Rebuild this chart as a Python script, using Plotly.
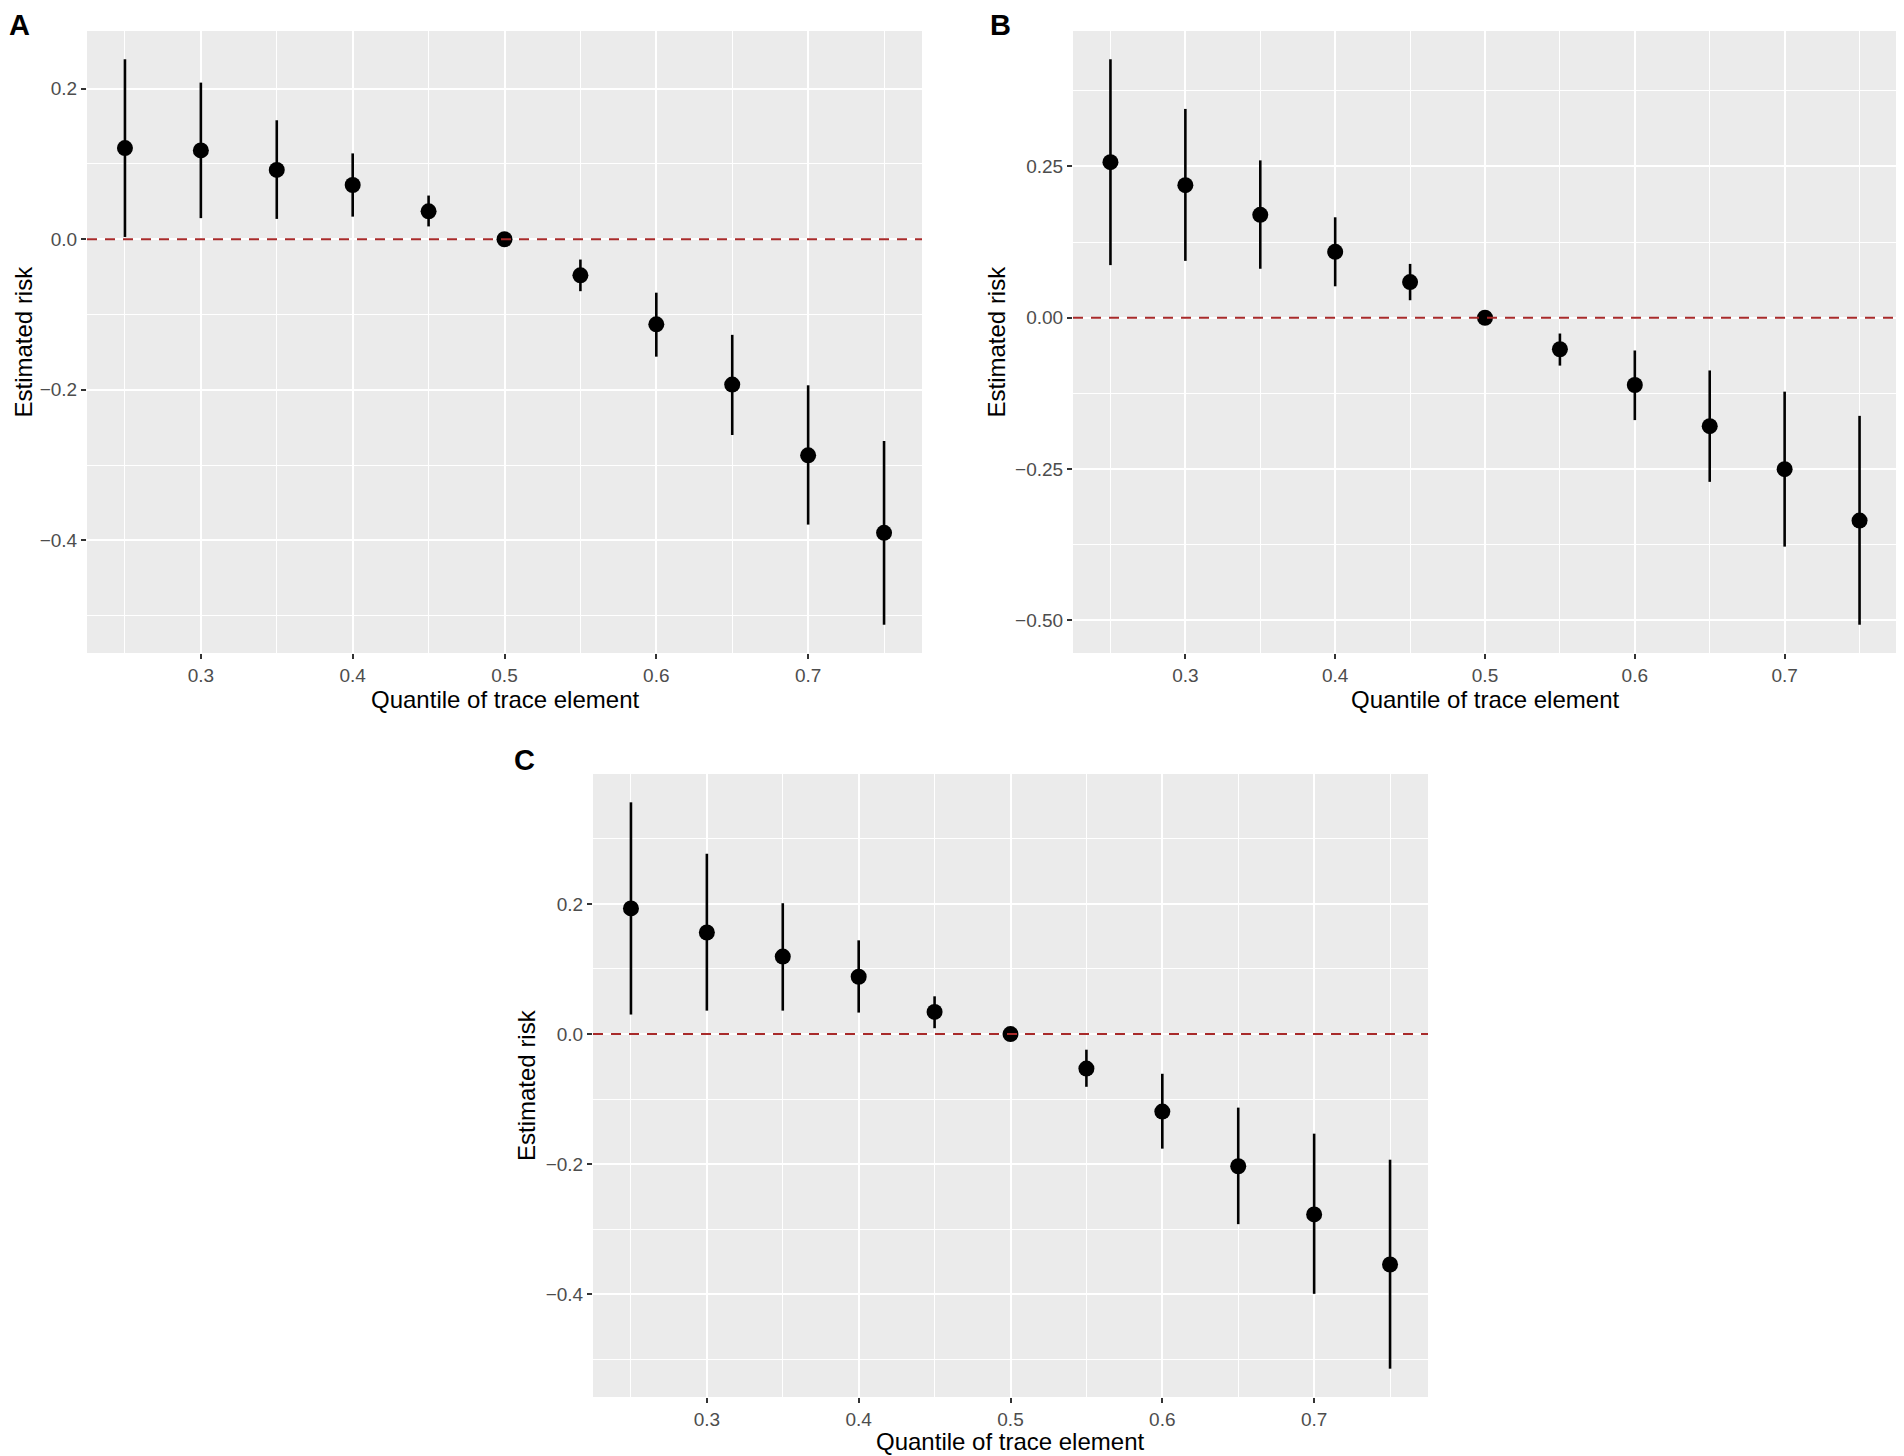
import plotly.graph_objects as go

# quantiles of the trace element (same for every panel)
quantiles = [0.25, 0.30, 0.35, 0.40, 0.45, 0.50, 0.55, 0.60, 0.65, 0.70, 0.75]

# panel A
a_est = [0.121, 0.118, 0.092, 0.072, 0.037, 0.0, -0.048, -0.113, -0.193, -0.287, -0.390]
a_low = [0.003, 0.028, 0.027, 0.030, 0.017, 0.0, -0.069, -0.156, -0.260, -0.379, -0.512]
a_high = [0.239, 0.208, 0.158, 0.114, 0.058, 0.0, -0.027, -0.071, -0.127, -0.194, -0.268]

# panel B
b_est = [0.257, 0.219, 0.170, 0.109, 0.059, 0.0, -0.052, -0.111, -0.179, -0.250, -0.335]
b_low = [0.087, 0.094, 0.081, 0.052, 0.029, 0.0, -0.079, -0.169, -0.271, -0.378, -0.507]
b_high = [0.427, 0.345, 0.260, 0.166, 0.089, 0.0, -0.026, -0.054, -0.087, -0.122, -0.162]

# panel C
c_est = [0.193, 0.156, 0.119, 0.088, 0.034, 0.0, -0.053, -0.119, -0.203, -0.277, -0.354]
c_low = [0.030, 0.036, 0.036, 0.033, 0.009, 0.0, -0.081, -0.176, -0.292, -0.399, -0.514]
c_high = [0.356, 0.277, 0.201, 0.144, 0.058, 0.0, -0.024, -0.061, -0.113, -0.153, -0.193]

panels = [
    ("A", a_est, a_low, a_high),
    ("B", b_est, b_low, b_high),
    ("C", c_est, c_low, c_high),
]

# page body has an 8px margin, so the figure is a bit smaller and everything is shifted by it
OFF = 8
W, H = 1904 - OFF, 1456 - OFF
# plot areas in screen pixels: left, right, top, bottom
boxes = {
    "A": (87, 922, 31, 653),
    "B": (1073, 1897, 31, 653),
    "C": (593, 1428, 774, 1397),
}
# y tick settings per panel: major step, minor step, format
yticks = {
    "A": (0.2, 0.1, ".1f"),
    "B": (0.25, 0.125, ".2f"),
    "C": (0.2, 0.1, ".1f"),
}
ytitle_x = {"A": 20, "B": 995, "C": 526}
xtitle_y = {"A": 699, "B": 699, "C": 1441}
label_pos = {"A": (19, 20), "B": (1000, 22), "C": (524, 760)}

tick_font = dict(family="Liberation Sans, Arial, sans-serif", size=19, color="#4D4D4D")
title_font = dict(family="Liberation Sans, Arial, sans-serif", size=24, color="black")


def px_x(v):
    return (v - OFF) / W


def px_y(v):
    return 1 - (v - OFF) / H


fig = go.Figure()

for i, (name, est, low, high) in enumerate(panels):
    n = "" if i == 0 else str(i + 1)
    left, right, top, bottom = boxes[name]
    xdom = [px_x(left), px_x(right)]
    ydom = [px_y(bottom), px_y(top)]

    # ggplot style 5% expansion of the data range
    ymax = max(high)
    ymin = min(low)
    pad = (ymax - ymin) * 0.05
    major, minor, fmt = yticks[name]

    fig.add_trace(go.Scatter(
        x=quantiles, y=est,
        mode="markers",
        marker=dict(color="black", size=16),
        error_y=dict(type="data", symmetric=False,
                     array=[h - e for h, e in zip(high, est)],
                     arrayminus=[e - l for e, l in zip(est, low)],
                     color="black", thickness=2.6, width=0),
        xaxis="x" + n, yaxis="y" + n,
        showlegend=False,
    ))

    fig.update_layout(**{
        "xaxis" + n: dict(
            domain=xdom, anchor="y" + n, range=[0.225, 0.775],
            tickmode="linear", tick0=0.3, dtick=0.1,
            showgrid=True, gridcolor="white", gridwidth=2,
            minor=dict(tickmode="linear", tick0=0.25, dtick=0.1,
                       showgrid=True, gridcolor="white", gridwidth=1, ticks=""),
            ticks="outside", ticklen=5, tickwidth=2, tickcolor="#333333",
            tickfont=tick_font, zeroline=False, showline=False,
        ),
        "yaxis" + n: dict(
            domain=ydom, anchor="x" + n, range=[ymin - pad, ymax + pad],
            tickmode="linear", tick0=0, dtick=major, tickformat=fmt,
            showgrid=True, gridcolor="white", gridwidth=2,
            minor=dict(tickmode="linear", tick0=minor, dtick=major,
                       showgrid=True, gridcolor="white", gridwidth=1, ticks=""),
            ticks="outside", ticklen=5, tickwidth=2, tickcolor="#333333",
            tickfont=tick_font, zeroline=False, showline=False,
        ),
    })

    # dashed reference line at zero
    fig.add_shape(type="line", xref="x" + n + " domain", x0=0, x1=1,
                  yref="y" + n, y0=0, y1=0,
                  line=dict(color="#A82A2A", width=2, dash="10px,8px"))

    # axis titles
    fig.add_annotation(text="Quantile of trace element", xref="paper", yref="paper",
                       x=px_x((left + right) / 2), y=px_y(xtitle_y[name]),
                       showarrow=False, font=title_font, xanchor="center", yanchor="middle",
                       borderpad=0)
    fig.add_annotation(text="Estimated risk", xref="paper", yref="paper",
                       x=max(px_x(ytitle_x[name]) - 14 / W, 0), y=px_y((top + bottom) / 2),
                       textangle=-90, showarrow=False, font=title_font,
                       xanchor="left", yanchor="middle", borderpad=0)

    # panel letter
    lx, ly = label_pos[name]
    fig.add_annotation(text="<b>" + name + "</b>", xref="paper", yref="paper",
                       x=max(px_x(lx) - 11 / W, 0), y=min(px_y(ly) + 17 / H, 1),
                       showarrow=False,
                       font=dict(family="Liberation Sans, Arial, sans-serif", size=29, color="black"),
                       xanchor="left", yanchor="top", borderpad=0)

fig.update_layout(
    width=W, height=H,
    margin=dict(l=0, r=0, t=0, b=0),
    paper_bgcolor="white",
    plot_bgcolor="#EBEBEB",
)

fig.write_html("out.html")
